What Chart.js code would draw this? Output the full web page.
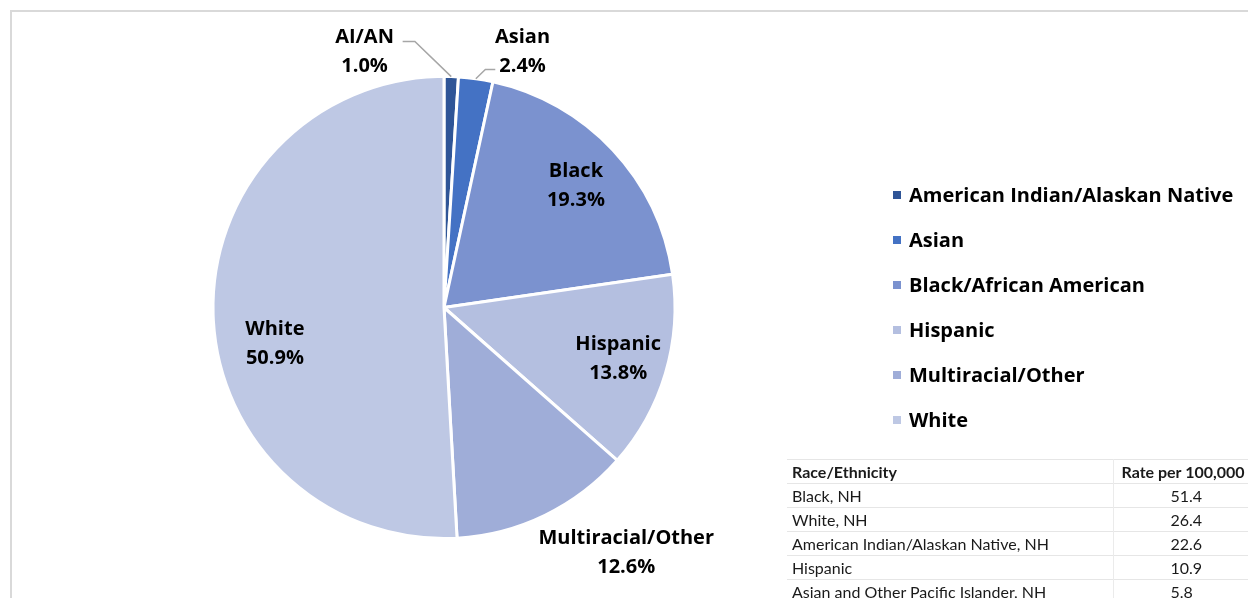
<!DOCTYPE html>
<html>
<head>
<meta charset="utf-8">
<script src="https://cdn.jsdelivr.net/npm/chart.js@4"></script>
<style>
  body { margin: 0; background: #fff; }
  #wrap { position: relative; width: 1248px; height: 598px; overflow: hidden; }
  #frame { position: absolute; left: 10px; top: 10px; width: 1260px; height: 620px;
           border-top: 2px solid #d9d9d9; border-left: 2px solid #d9d9d9; }
  #pie { position: absolute; left: 0; top: 0; }
  #rates { position: absolute; left: 787px; top: 459px; width: 480px; border-collapse: collapse; table-layout: fixed;
           font-family: Lato, sans-serif; font-size: 16px; color: #1a1a1a; }
  #rates td, #rates th { height: 23px; padding: 0 0 0 5px; border-top: 1px solid #e6e6e6; white-space: nowrap; overflow: visible; }
  #rates th { font-weight: bold; text-align: left; }
  #rates td:first-child, #rates th:first-child { border-right: 1px solid #ebebeb; }
  #rates td:last-child { text-align: left; padding-left: 57px; }
  #rates th:last-child { padding-left: 8px; }
</style>
</head>
<body>
<div id="wrap">
  <div id="frame"></div>
  <canvas id="pie" width="1248" height="598"></canvas>
  <table id="rates"><colgroup><col style="width:326px"><col style="width:154px"></colgroup><thead></thead><tbody></tbody></table>
</div>
<script>
// pie data
const groups = ['American Indian/Alaskan Native', 'Asian', 'Black/African American', 'Hispanic', 'Multiracial/Other', 'White'];
const shortNames = ['AI/AN', 'Asian', 'Black', 'Hispanic', 'Multiracial/Other', 'White'];
const shares = [1.0, 2.4, 19.3, 13.8, 12.6, 50.9];
const sliceColors = ['#2f5597', '#4472c4', '#7b92cf', '#b4bfe0', '#9fadd8', '#bec8e4'];

// rate table
const tableHead = ['Race/Ethnicity', 'Rate per 100,000'];
const tableGroups = ['Black, NH', 'White, NH', 'American Indian/Alaskan Native, NH', 'Hispanic', 'Asian and Other Pacific Islander, NH'];
const tableRates = [51.4, 26.4, 22.6, 10.9, 5.8];

const FONT = '"Open Sans", sans-serif';

// where each slice label sits, in pie radii from the centre
const labelSpots = [
    { dx: -0.344, dy: -1.11, lead: [[-0.126, -1.152], [-0.179, -1.152]] },
    { dx: 0.34, dy: -1.11, lead: [[0.179, -1.03], [0.222, -1.03]] },
    { dx: 0.571, dy: -0.528 },
    { dx: 0.754, dy: 0.219 },
    { dx: 0.789, dy: 1.06 },
    { dx: -0.732, dy: 0.156 }
];

const sliceLabels = {
    id: 'sliceLabels',
    afterDatasetsDraw(chart) {
        const ctx = chart.ctx;
        const arcs = chart.getDatasetMeta(0).data;
        ctx.save();
        arcs.forEach((arc, i) => {
            const { x, y, outerRadius, startAngle, endAngle } = arc.getProps(['x', 'y', 'outerRadius', 'startAngle', 'endAngle'], true);
            const spot = labelSpots[i];
            // leader line from the rim to the label
            if (spot.lead) {
                const mid = (startAngle + endAngle) / 2;
                ctx.strokeStyle = '#a6a6a6';
                ctx.lineWidth = 1.5;
                ctx.beginPath();
                ctx.moveTo(x + Math.cos(mid) * outerRadius, y + Math.sin(mid) * outerRadius);
                spot.lead.forEach(p => ctx.lineTo(x + p[0] * outerRadius, y + p[1] * outerRadius));
                ctx.stroke();
            }
            const lx = x + spot.dx * outerRadius;
            const ly = y + spot.dy * outerRadius;
            ctx.fillStyle = '#000';
            ctx.font = 'bold 20px ' + FONT;
            ctx.textAlign = 'center';
            ctx.textBaseline = 'middle';
            ctx.fillText(shortNames[i], lx, ly - 14);
            ctx.fillText(chart.data.datasets[0].data[i].toFixed(1) + '%', lx, ly + 15);
        });
        ctx.restore();
    }
};

const sideLegend = {
    id: 'sideLegend',
    afterDraw(chart) {
        const ctx = chart.ctx;
        const colors = chart.data.datasets[0].backgroundColor;
        ctx.save();
        ctx.font = 'bold 20px ' + FONT;
        ctx.textBaseline = 'middle';
        ctx.textAlign = 'left';
        chart.data.labels.forEach((lab, i) => {
            const yy = 195 + i * 45;
            ctx.fillStyle = colors[i];
            ctx.fillRect(893, yy - 4, 8, 8);
            ctx.fillStyle = '#000';
            ctx.fillText(lab, 909, yy + 1);
        });
        ctx.restore();
    }
};

function initChart() {
    new Chart(document.getElementById('pie'), {
        type: 'pie',
        data: {
            labels: groups,
            datasets: [{ data: shares, backgroundColor: sliceColors, borderColor: '#fff', borderWidth: 3, radius: 231 }]
        },
        options: {
            responsive: false,
            animation: false,
            layout: { padding: { left: 213, right: 573, top: 77, bottom: 60 } },
            plugins: { legend: { display: false }, tooltip: { enabled: false } }
        },
        plugins: [sliceLabels, sideLegend]
    });
}

function fillTable() {
    const t = document.getElementById('rates');
    t.tHead.innerHTML = '<tr>' + tableHead.map(h => `<th>${h}</th>`).join('') + '</tr>';
    t.tBodies[0].innerHTML = tableGroups.map((g, i) => `<tr><td>${g}</td><td>${tableRates[i].toFixed(1)}</td></tr>`).join('');
}

fillTable();
initChart();
</script>
</body>
</html>
